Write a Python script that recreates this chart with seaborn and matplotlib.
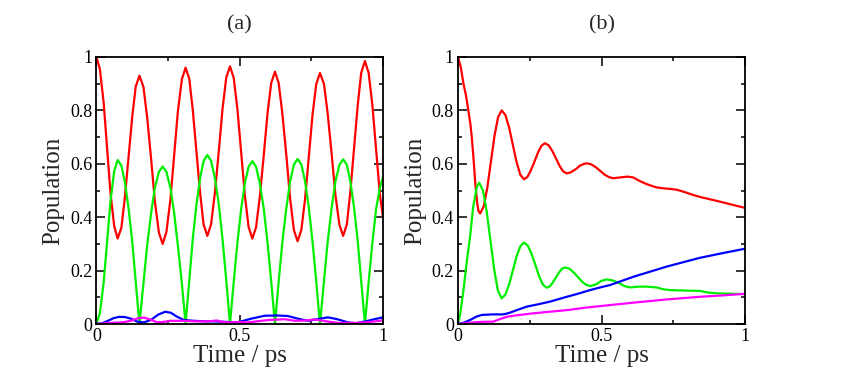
import pandas as pd
import seaborn as sns
import matplotlib.pyplot as plt
from matplotlib.ticker import AutoMinorLocator

# ---- panel (a): undamped oscillation ----
t_a = [0,
       0.012, 0.025, 0.037, 0.049, 0.062, 0.074,
       0.087, 0.099, 0.112, 0.125, 0.137, 0.150,
       0.164, 0.177, 0.191, 0.204, 0.218, 0.231,
       0.244, 0.258, 0.271, 0.284, 0.298, 0.311,
       0.324, 0.336, 0.349, 0.362, 0.374, 0.387,
       0.400, 0.413, 0.427, 0.440, 0.453, 0.466,
       0.479, 0.492, 0.505, 0.518, 0.531, 0.544,
       0.557, 0.570, 0.584, 0.597, 0.610, 0.623,
       0.636, 0.649, 0.663, 0.676, 0.689, 0.702,
       0.715, 0.728, 0.741, 0.754, 0.767, 0.780,
       0.794, 0.807, 0.821, 0.834, 0.848, 0.861,
       0.874, 0.886, 0.899, 0.912, 0.924, 0.937,
       0.950, 0.963, 0.976, 0.989, 1.0]
red_a = [1.0,
         0.954, 0.83, 0.66, 0.49, 0.366, 0.32,
         0.361, 0.473, 0.625, 0.778, 0.889, 0.93,
         0.888, 0.773, 0.615, 0.458, 0.342, 0.30,
         0.344, 0.465, 0.63, 0.795, 0.916, 0.96,
         0.918, 0.803, 0.645, 0.488, 0.372, 0.33,
         0.373, 0.489, 0.648, 0.806, 0.923, 0.965,
         0.922, 0.804, 0.643, 0.481, 0.363, 0.32,
         0.362, 0.476, 0.633, 0.789, 0.903, 0.945,
         0.902, 0.786, 0.628, 0.469, 0.352, 0.31,
         0.352, 0.468, 0.625, 0.783, 0.898, 0.94,
         0.899, 0.788, 0.635, 0.483, 0.371, 0.33,
         0.374, 0.494, 0.658, 0.821, 0.941, 0.985,
         0.94, 0.819, 0.653, 0.486, 0.40]
green_a = [0.0,
           0.041, 0.154, 0.307, 0.461, 0.573, 0.614,
           0.593, 0.532, 0.434, 0.307, 0.159, 0.0,
           0.153, 0.295, 0.417, 0.511, 0.570, 0.59,
           0.570, 0.511, 0.417, 0.295, 0.153, 0.0,
           0.164, 0.317, 0.448, 0.548, 0.611, 0.633,
           0.611, 0.548, 0.448, 0.317, 0.164, 0.0,
           0.158, 0.305, 0.431, 0.528, 0.589, 0.61,
           0.589, 0.528, 0.431, 0.305, 0.158, 0.0,
           0.160, 0.309, 0.437, 0.535, 0.597, 0.618,
           0.597, 0.535, 0.437, 0.309, 0.160, 0.0,
           0.160, 0.309, 0.436, 0.534, 0.596, 0.617,
           0.596, 0.534, 0.436, 0.309, 0.160, 0.0,
           0.158, 0.305, 0.431, 0.51, 0.55]
t_blue_a = [0, 0.02, 0.04, 0.06, 0.08, 0.10, 0.12, 0.142, 0.165, 0.19, 0.215, 0.24, 0.26,
            0.28, 0.305, 0.34, 0.38, 0.41, 0.45, 0.48, 0.50, 0.54, 0.587, 0.63, 0.668,
            0.703, 0.738, 0.77, 0.808, 0.84, 0.878, 0.905, 0.94, 0.97, 1.0]
blue_a = [0, 0.003, 0.012, 0.022, 0.027, 0.026, 0.02, 0.009, 0.006, 0.015, 0.035, 0.046,
          0.042, 0.028, 0.015, 0.012, 0.01, 0.01, 0.008, 0.006, 0.008, 0.02, 0.031, 0.032,
          0.03, 0.02, 0.012, 0.018, 0.025, 0.018, 0.006, 0.003, 0.01, 0.018, 0.025]
t_mag_a = [0, 0.03, 0.06, 0.09, 0.12, 0.145, 0.165, 0.185, 0.212, 0.235, 0.259, 0.30, 0.35,
           0.39, 0.42, 0.45, 0.50, 0.529, 0.56, 0.60, 0.657, 0.692, 0.727, 0.762, 0.797,
           0.843, 0.913, 0.959, 1.0]
mag_a = [0, 0.003, 0.005, 0.006, 0.012, 0.022, 0.024, 0.018, 0.006, 0.008, 0.012, 0.012,
         0.01, 0.01, 0.013, 0.006, 0.007, 0.006, 0.01, 0.015, 0.018, 0.012, 0.013, 0.017,
         0.011, 0.004, 0.004, 0.008, 0.014]

# ---- panel (b): damped ----
t_red_b = [0, 0.01, 0.019, 0.028, 0.036, 0.043, 0.048, 0.054, 0.060, 0.066, 0.071, 0.077,
           0.0895, 0.102, 0.1145, 0.127, 0.1395, 0.152,
           0.165, 0.178, 0.191, 0.204, 0.217, 0.23,
           0.242, 0.254, 0.267, 0.279, 0.291, 0.303,
           0.316, 0.328, 0.341, 0.354, 0.366, 0.379,
           0.39, 0.402, 0.414, 0.425, 0.437, 0.448,
           0.464, 0.479, 0.495, 0.51, 0.526, 0.541,
           0.565, 0.59, 0.61, 0.634, 0.657, 0.69, 0.716, 0.739, 0.762, 0.79, 0.82,
           0.85, 0.878, 0.906, 0.936, 0.965, 1.0]
red_b = [1.0, 0.96, 0.90, 0.855, 0.80, 0.75, 0.70, 0.62, 0.53, 0.46, 0.425, 0.414,
         0.44, 0.51, 0.607, 0.704, 0.774, 0.80,
         0.783, 0.736, 0.671, 0.607, 0.559, 0.542,
         0.551, 0.576, 0.61, 0.643, 0.668, 0.677,
         0.669, 0.649, 0.621, 0.592, 0.572, 0.564,
         0.567, 0.574, 0.583, 0.593, 0.599, 0.602,
         0.598, 0.588, 0.574, 0.56, 0.55, 0.546,
         0.549, 0.552, 0.549, 0.535, 0.524, 0.512, 0.508, 0.506, 0.503, 0.494, 0.483,
         0.474, 0.467, 0.46, 0.452, 0.444, 0.435]
t_green_b = [0, 0.008, 0.019, 0.03, 0.042, 0.053, 0.065, 0.069, 0.074,
             0.087, 0.1, 0.113, 0.126, 0.139, 0.152,
             0.165, 0.178, 0.191, 0.204, 0.217, 0.23,
             0.243, 0.256, 0.27, 0.283, 0.296, 0.309,
             0.32, 0.33, 0.341, 0.352, 0.362, 0.373,
             0.388, 0.402, 0.417, 0.431, 0.446, 0.46,
             0.48, 0.5, 0.518, 0.54, 0.564, 0.58, 0.599, 0.63, 0.657, 0.692, 0.715,
             0.739, 0.8, 0.843, 0.87, 0.901, 1.0]
green_b = [0, 0.04, 0.127, 0.228, 0.327, 0.44, 0.51, 0.522, 0.529,
           0.5, 0.421, 0.313, 0.204, 0.125, 0.096,
           0.11, 0.148, 0.2, 0.253, 0.291, 0.305,
           0.294, 0.263, 0.22, 0.178, 0.147, 0.136,
           0.141, 0.155, 0.174, 0.193, 0.207, 0.212,
           0.207, 0.194, 0.177, 0.16, 0.147, 0.142,
           0.148, 0.162, 0.167, 0.163, 0.152, 0.142, 0.137, 0.14, 0.14, 0.137, 0.13,
           0.127, 0.125, 0.124, 0.118, 0.115, 0.112]
t_blue_b = [0, 0.02, 0.042, 0.065, 0.083, 0.12, 0.158, 0.18, 0.205, 0.239, 0.28, 0.321,
            0.379, 0.42, 0.46, 0.495, 0.53, 0.611, 0.727, 0.843, 0.92, 1.0]
blue_b = [0, 0.005, 0.015, 0.028, 0.034, 0.036, 0.036, 0.042, 0.052, 0.065, 0.074, 0.084,
          0.102, 0.114, 0.127, 0.137, 0.146, 0.177, 0.215, 0.248, 0.265, 0.282]
t_mag_b = [0, 0.042, 0.08, 0.123, 0.145, 0.17, 0.2, 0.261, 0.32, 0.379, 0.45, 0.495, 0.53,
           0.611, 0.727, 0.843, 0.92, 1.0]
mag_b = [0, 0.005, 0.008, 0.009, 0.018, 0.027, 0.032, 0.04, 0.046, 0.052, 0.062, 0.067,
         0.071, 0.08, 0.092, 0.102, 0.107, 0.113]

colors = {'red': '#ff0000', 'green': '#00ee00', 'blue': '#0000ff', 'magenta': '#ff00ff'}
x_ticks = [0, 0.5, 1]
x_ticklabels = ['0', '0.5', '1']
y_ticks = [0, 0.2, 0.4, 0.6, 0.8, 1]
y_ticklabels = ['0', '0.2', '0.4', '0.6', '0.8', '1']


def long_df(series):
    parts = [pd.DataFrame({'time': t, 'pop': v, 'state': name})
             for name, (t, v) in series.items()]
    return pd.concat(parts, ignore_index=True)


df_a = long_df({'red': (t_a, red_a), 'green': (t_a, green_a),
                'blue': (t_blue_a, blue_a), 'magenta': (t_mag_a, mag_a)})
df_b = long_df({'red': (t_red_b, red_b), 'green': (t_green_b, green_b),
                'blue': (t_blue_b, blue_b), 'magenta': (t_mag_b, mag_b)})

sns.set_style('ticks')
plt.rcParams['font.family'] = ['Liberation Serif', 'DejaVu Serif']

fig = plt.figure(figsize=(8.41, 3.82), dpi=100)
ax_a = fig.add_axes([0.1147, 0.1518, 0.3407, 0.699])
ax_b = fig.add_axes([0.5446, 0.1518, 0.3413, 0.699])

for ax, df, title in [(ax_a, df_a, '(a)'), (ax_b, df_b, '(b)')]:
    sns.lineplot(data=df, x='time', y='pop', hue='state', palette=colors,
                 estimator=None, sort=False, legend=False, lw=1.6, ax=ax)
    ax.set_xlim(0, 1)
    ax.set_ylim(0, 1)
    ax.set_xticks(x_ticks)
    ax.set_xticklabels(x_ticklabels)
    ax.set_yticks(y_ticks)
    ax.set_yticklabels(y_ticklabels)
    ax.xaxis.set_minor_locator(AutoMinorLocator(2))
    ax.yaxis.set_minor_locator(AutoMinorLocator(2))
    ax.tick_params(which='both', direction='in', top=True, right=True,
                   width=1.1, colors='black')
    ax.tick_params(which='major', length=6.2, labelsize=13, pad=3)
    ax.tick_params(which='minor', length=3)
    for sp in ax.spines.values():
        sp.set_linewidth(1.3)
        sp.set_color('black')
    ax.set_xlabel('Time / ps', fontsize=18, labelpad=0)
    ax.set_ylabel('Population', fontsize=18, labelpad=4)
    ax.set_title(title, fontsize=16, pad=20)

fig.savefig('out.png', dpi=100)
